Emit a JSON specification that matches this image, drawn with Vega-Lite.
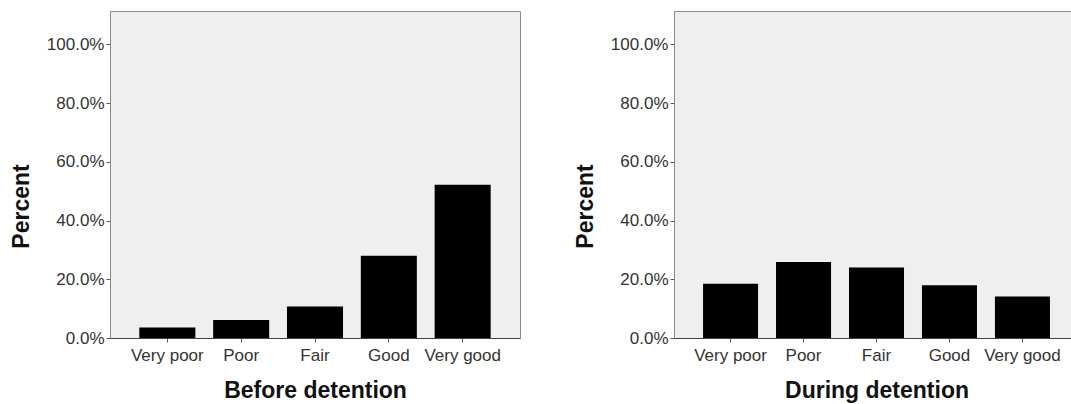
{
  "$schema": "https://vega.github.io/schema/vega-lite/v6.json",
  "padding": {"left": 9, "top": 10, "right": 0, "bottom": 0},
  "background": "white",
  "config": {
    "view": {"fill": "#efefef", "stroke": "#8c8c8c", "strokeWidth": 1},
    "axis": {
      "labelFont": "Liberation Sans", "labelFontSize": 17, "labelColor": "#333333",
      "titleFont": "Liberation Sans", "titleFontSize": 23, "titleFontWeight": "bold", "titleColor": "#111111",
      "domainColor": "#555555", "tickColor": "#555555", "grid": false, "tickSize": 4
    },
    "concat": {"spacing": 52}
  },
  "datasets": {
    "before": [
      {"rating": "Very poor", "percent": 3.6},
      {"rating": "Poor", "percent": 6.1},
      {"rating": "Fair", "percent": 10.7},
      {"rating": "Good", "percent": 28.0},
      {"rating": "Very good", "percent": 52.2}
    ],
    "during": [
      {"rating": "Very poor", "percent": 18.5},
      {"rating": "Poor", "percent": 25.9},
      {"rating": "Fair", "percent": 24.0},
      {"rating": "Good", "percent": 18.0},
      {"rating": "Very good", "percent": 14.1}
    ]
  },
  "hconcat": [
    {
      "width": 410, "height": 327,
      "data": {"name": "before"},
      "mark": {"type": "bar", "color": "#000000"},
      "encoding": {
        "x": {"field": "rating", "type": "nominal", "sort": ["Very poor", "Poor", "Fair", "Good", "Very good"],
              "scale": {"paddingInner": 0.241, "paddingOuter": 0.397},
              "axis": {"title": "Before detention", "labelAngle": 0, "labelPadding": 5, "titlePadding": 16, "domainColor": "#444444"}},
        "y": {"field": "percent", "type": "quantitative",
              "scale": {"domain": [0, 111.4], "nice": false},
              "axis": {"values": [0, 20, 40, 60, 80, 100], "labelExpr": "format(datum.value, '.1f') + '%'", "title": "Percent", "titleY": 195, "titlePadding": 13, "labelPadding": 2, "domainColor": "#888888"}}
      }
    },
    {
      "width": 405, "height": 327,
      "data": {"name": "during"},
      "mark": {"type": "bar", "color": "#000000"},
      "encoding": {
        "x": {"field": "rating", "type": "nominal", "sort": ["Very poor", "Poor", "Fair", "Good", "Very good"],
              "scale": {"paddingInner": 0.246, "paddingOuter": 0.398},
              "axis": {"title": "During detention", "labelAngle": 0, "labelPadding": 5, "titlePadding": 16, "domainColor": "#444444"}},
        "y": {"field": "percent", "type": "quantitative",
              "scale": {"domain": [0, 111.4], "nice": false},
              "axis": {"values": [0, 20, 40, 60, 80, 100], "labelExpr": "format(datum.value, '.1f') + '%'", "title": "Percent", "titleY": 195, "titlePadding": 13, "labelPadding": 2, "domainColor": "#888888"}}
      }
    }
  ]
}
